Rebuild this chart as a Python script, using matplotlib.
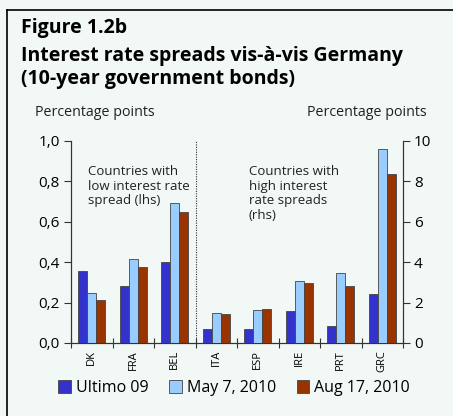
import matplotlib
matplotlib.use("Agg")
import matplotlib.pyplot as plt
from matplotlib.lines import Line2D
from matplotlib.patches import Patch
import numpy as np

countries_low = ["DK", "FRA", "BEL"]
countries_high = ["ITA", "ESP", "IRE", "PRT", "GRC"]
series_names = ["Ultimo 09", "May 7, 2010", "Aug 17, 2010"]

# lhs values (percentage points)
low_ultimo = [0.355, 0.28, 0.40]
low_may = [0.25, 0.415, 0.695]
low_aug = [0.215, 0.375, 0.65]

# rhs values (percentage points)
high_ultimo = [0.68, 0.68, 1.58, 0.83, 2.41]
high_may = [1.47, 1.63, 3.07, 3.48, 9.59]
high_aug = [1.43, 1.67, 2.97, 2.81, 8.35]

left_ticks = [0.0, 0.2, 0.4, 0.6, 0.8, 1.0]
right_ticks = [0, 2, 4, 6, 8, 10]

colors = ["#3333cc", "#99ccff", "#993300"]
bg = "#f1f8f6"
font = "Open Sans"

W, H = 453, 416
fig = plt.figure(figsize=(W / 100, H / 100), dpi=100, facecolor=bg)
ax = fig.add_axes([71 / W, 1 - 343 / H, (403 - 71) / W, (343 - 141) / H])
ax.set_facecolor("none")
ax2 = ax.twinx()

n_low = len(countries_low)
x_low = np.arange(n_low)
x_high = np.arange(n_low, n_low + len(countries_high))
bw = 0.22
for i, vals in enumerate([low_ultimo, low_may, low_aug]):
    ax.bar(x_low + (i - 1) * bw, vals, bw, color=colors[i],
           edgecolor="#444444", linewidth=0.6, zorder=3)
for i, vals in enumerate([high_ultimo, high_may, high_aug]):
    ax2.bar(x_high + (i - 1) * bw, vals, bw, color=colors[i],
            edgecolor="#444444", linewidth=0.6, zorder=3)

n = n_low + len(countries_high)
ax.set_xlim(-0.5, n - 0.5)
ax.set_ylim(0, 1.0)
ax2.set_ylim(0, 10)

ax.set_xticks(np.arange(-0.5, n, 1.0))
ax.set_xticklabels([])
ax.set_xticks(np.arange(n), minor=True)
ax.set_xticklabels(countries_low + countries_high, minor=True, rotation=90,
                   fontsize=8, family=font)
ax.tick_params(axis="x", which="major", direction="inout", length=7, width=0.8, color="#333333")
ax.tick_params(axis="x", which="minor", length=0, pad=5)

ax.set_yticks(left_ticks)
ax.set_yticklabels([f"{v:.1f}".replace(".", ",") for v in left_ticks], fontsize=11, family=font)
ax.tick_params(axis="y", direction="out", length=5, width=0.8, color="#333333", pad=3)
ax2.set_yticks(right_ticks)
ax2.set_yticklabels([str(v) for v in right_ticks], fontsize=11, family=font)
ax2.tick_params(axis="y", direction="out", length=5, width=0.8, color="#333333", pad=3)

for a in (ax, ax2):
    a.spines["top"].set_visible(False)
    for s in ("left", "right", "bottom"):
        a.spines[s].set_color("#333333")
        a.spines[s].set_linewidth(0.8)

ax.axvline(n_low - 0.5, color="#333333", linestyle=(0, (1, 1.2)), linewidth=0.8, zorder=2)

ax.text(0.05, 0.88, "Countries with\nlow interest rate\nspread (lhs)", transform=ax.transAxes,
        fontsize=9.5, family=font, va="top", ha="left", linespacing=1.15, color="#222222")
ax.text(0.535, 0.88, "Countries with\nhigh interest\nrate spreads\n(rhs)", transform=ax.transAxes,
        fontsize=9.5, family=font, va="top", ha="left", linespacing=1.15, color="#222222")

fig.text(35 / W, 1 - 113 / H, "Percentage points", fontsize=10.3, family=font, va="center", color="#222222")
fig.text(427 / W, 1 - 113 / H, "Percentage points", fontsize=10.3, family=font, va="center",
         ha="right", color="#222222")

fig.text(21 / W, 1 - 28 / H, "Figure 1.2b", fontsize=14, family=font, weight="bold", va="center")
fig.text(21 / W, 1 - 56 / H, "Interest rate spreads vis-à-vis Germany", fontsize=14, family=font,
         weight="bold", va="center")
fig.text(21 / W, 1 - 79 / H, "(10-year government bonds)", fontsize=14, family=font,
         weight="bold", va="center")

# frame lines
fig.add_artist(Line2D([7 / W, 7 / W], [0, 1 - 10 / H], color="black", linewidth=1.2,
                      transform=fig.transFigure))
fig.add_artist(Line2D([7 / W, 1], [1 - 10 / H, 1 - 10 / H], color="black", linewidth=1.2,
                      transform=fig.transFigure))

handles = [Patch(facecolor=c, edgecolor="#444444", linewidth=0.6) for c in colors]
fig.legend(handles, series_names, loc="center", bbox_to_anchor=(234 / W, 1 - 388 / H), ncol=3,
           frameon=False, prop={"family": font, "size": 11.5}, handlelength=0.8, handleheight=0.8,
           handletextpad=0.3, columnspacing=1.3)

fig.savefig("out.png", dpi=100, facecolor=bg)
